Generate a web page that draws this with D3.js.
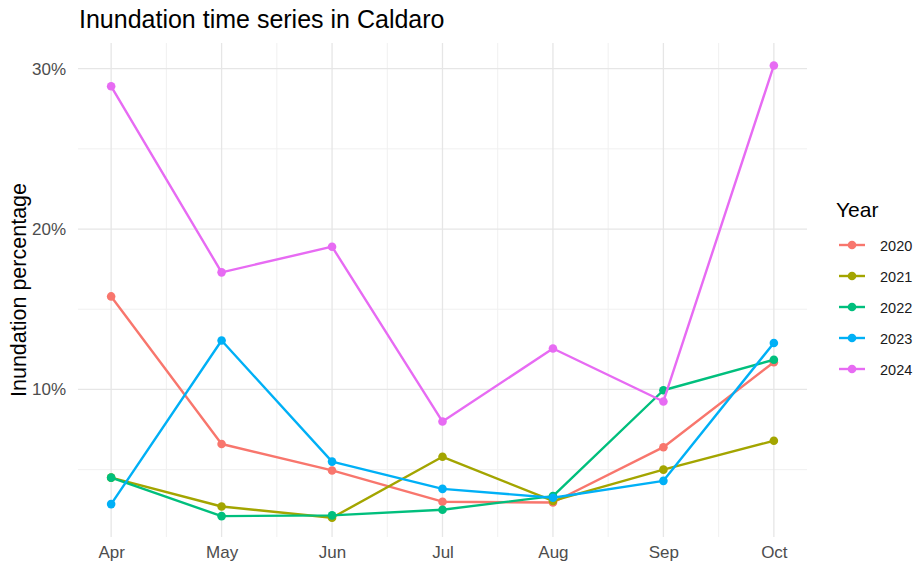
<!DOCTYPE html>
<html>
<head>
<meta charset="utf-8">
<script src="https://cdn.jsdelivr.net/npm/d3@7"></script>
<style>
  html, body { margin: 0; padding: 0; background: #fff; }
  svg { display: block; font-family: "Liberation Sans", Arial, sans-serif; }
</style>
</head>
<body>
<svg id="chart" width="918" height="573"></svg>
<script>
const months = ["Apr", "May", "Jun", "Jul", "Aug", "Sep", "Oct"];
const years = ["2020", "2021", "2022", "2023", "2024"];
const colors = ["#F8766D", "#A3A500", "#00BF7D", "#00B0F6", "#E76BF3"];
const v2020 = [15.8, 6.6, 4.95, 3.0, 2.95, 6.4, 11.7];
const v2021 = [4.5, 2.7, 2.0, 5.8, 3.05, 5.0, 6.8];
const v2022 = [4.5, 2.1, 2.15, 2.5, 3.35, 9.95, 11.85];
const v2023 = [2.85, 13.05, 5.5, 3.8, 3.25, 4.3, 12.9];
const v2024 = [28.9, 17.3, 18.9, 8.0, 12.55, 9.25, 30.2];
const yMajor = [10, 20, 30];
const yMinor = [5, 15, 25];

const seriesValues = [v2020, v2021, v2022, v2023, v2024];
const series = years.map((y, i) => ({ year: y, color: colors[i], values: seriesValues[i] }));

const svg = d3.select("#chart");
const panel = { left: 78, right: 807, top: 43, bottom: 537 };

const x = d3.scaleLinear().domain([-0.3, months.length - 1 + 0.3]).range([panel.left, panel.right]);
const y = d3.scaleLinear().domain([0.8, 31.6]).range([panel.bottom, panel.top]);

const grid = svg.append("g");
grid.selectAll(".hmin").data(yMinor).join("line")
  .attr("x1", panel.left).attr("x2", panel.right)
  .attr("y1", d => y(d)).attr("y2", d => y(d))
  .attr("stroke", "#f0f0f0").attr("stroke-width", 1);
const xMinor = d3.range(0, months.length - 1).map(i => i + 0.5);
grid.selectAll(".vmin").data(xMinor).join("line")
  .attr("x1", d => x(d)).attr("x2", d => x(d))
  .attr("y1", panel.top).attr("y2", panel.bottom)
  .attr("stroke", "#f0f0f0").attr("stroke-width", 1);
grid.selectAll(".hmaj").data(yMajor).join("line")
  .attr("x1", panel.left).attr("x2", panel.right)
  .attr("y1", d => y(d)).attr("y2", d => y(d))
  .attr("stroke", "#e6e6e6").attr("stroke-width", 1.3);
grid.selectAll(".vmaj").data(months.map((m, i) => i)).join("line")
  .attr("x1", d => x(d)).attr("x2", d => x(d))
  .attr("y1", panel.top).attr("y2", panel.bottom)
  .attr("stroke", "#e6e6e6").attr("stroke-width", 1.3);

const yAxis = d3.axisLeft(y).tickValues(yMajor).tickFormat(d => d + "%").tickSize(0).tickPadding(12);
const yg = svg.append("g").attr("transform", `translate(${panel.left},0)`).call(yAxis);
yg.select(".domain").remove();
yg.selectAll("text").attr("fill", "#4d4d4d").attr("font-size", 17).attr("font-family", "Liberation Sans, Arial, sans-serif");

const xAxis = d3.axisBottom(x).tickValues(months.map((m, i) => i)).tickFormat(i => months[i]).tickSize(0).tickPadding(9);
const xg = svg.append("g").attr("transform", `translate(0,${panel.bottom})`).call(xAxis);
xg.select(".domain").remove();
xg.selectAll("text").attr("fill", "#4d4d4d").attr("font-size", 17).attr("font-family", "Liberation Sans, Arial, sans-serif");

const line = d3.line().x((d, i) => x(i)).y(d => y(d));
const gs = svg.append("g").selectAll("g").data(series).join("g");
gs.append("path")
  .attr("d", d => line(d.values))
  .attr("fill", "none").attr("stroke", d => d.color).attr("stroke-width", 2.4)
  .attr("stroke-linejoin", "round");
gs.selectAll("circle").data(d => d.values.map(v => ({ v, c: d.color }))).join("circle")
  .attr("cx", (d, i) => x(i)).attr("cy", d => y(d.v)).attr("r", 4.3)
  .attr("fill", d => d.c);

svg.append("text").attr("x", 79).attr("y", 28)
  .attr("font-size", 25).attr("fill", "#000")
  .text("Inundation time series in Caldaro");

svg.append("text")
  .attr("transform", `translate(26,290) rotate(-90)`)
  .attr("text-anchor", "middle").attr("font-size", 21.5).attr("fill", "#000")
  .text("Inundation percentage");

const lg = svg.append("g");
lg.append("text").attr("x", 836).attr("y", 217).attr("font-size", 21).attr("fill", "#000").text("Year");
const items = lg.selectAll(".item").data(series).join("g")
  .attr("transform", (d, i) => `translate(0,${245 + i * 31})`);
items.append("line").attr("x1", 839).attr("x2", 865).attr("y1", 0).attr("y2", 0)
  .attr("stroke", d => d.color).attr("stroke-width", 2.4);
items.append("circle").attr("cx", 852).attr("cy", 0).attr("r", 4.3).attr("fill", d => d.color);
items.append("text").attr("x", 880).attr("y", 5.5).attr("font-size", 14.5).attr("fill", "#1a1a1a").text(d => d.year);
</script>
</body>
</html>
